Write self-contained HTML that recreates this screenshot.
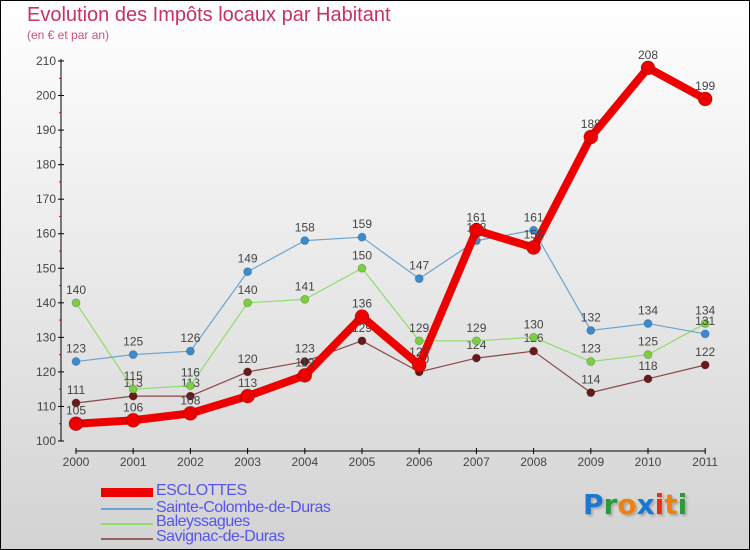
<!DOCTYPE html>
<html><head><meta charset="utf-8"><style>
body{margin:0}
#wrap{position:relative;width:748px;height:548px;border:1px solid #000;background:linear-gradient(#fff,#d3d3d3);font-family:"Liberation Sans",sans-serif;overflow:hidden}
.t{position:absolute;color:#c8325f}
.leg{position:absolute;left:155px;font-size:16px;color:#5555ee;letter-spacing:-0.5px}
.sw{position:absolute;left:100px;width:52px}
</style></head><body>
<div id="wrap">
<div class="t" style="left:26px;top:3px;font-size:20px">Evolution des Impôts locaux par Habitant</div>
<div class="t" style="left:26px;top:27px;font-size:12px;opacity:.85">(en € et par an)</div>
<svg id="chart" width="748" height="548" style="position:absolute;left:0;top:0"></svg>
<div class="sw" style="top:487px;height:9px;background:#e00"></div>
<div class="leg" style="top:481px">ESCLOTTES</div>
<div class="sw" style="top:507px;height:2px;background:#6aa4d0"></div>
<div class="leg" style="top:498px">Sainte-Colombe-de-Duras</div>
<div class="sw" style="top:522px;height:2px;background:#8fdc6a"></div>
<div class="leg" style="top:512px">Baleyssagues</div>
<div class="sw" style="top:537px;height:2px;background:#946060"></div>
<div class="leg" style="top:527px">Savignac-de-Duras</div>
<div style="position:absolute;left:582px;top:487px;font-size:28px;font-family:'DejaVu Sans',sans-serif;font-weight:bold;text-shadow:2px 2px 2px #aaa"><span style="color:#1a78d0">P</span><span style="color:#2a9a3a">r</span><span style="color:#f08010">o</span><span style="color:#1a78d0">x</span><span style="color:#e83010">i</span><span style="color:#f08010">t</span><span style="color:#2a9a3a">i</span></div>
</div>
<script>
const years=["2000","2001","2002","2003","2004","2005","2006","2007","2008","2009","2010","2011"];
const yTicks=[100,110,120,130,140,150,160,170,180,190,200,210];
const esclottes=[105,106,108,113,119,136,122,161,156,188,208,199];
const sainteColombe=[123,125,126,149,158,159,147,158,161,132,134,131];
const baleyssagues=[140,115,116,140,141,150,129,129,130,123,125,134];
const savignac=[111,113,113,120,123,129,120,124,126,114,118,122];
const svg=document.getElementById('chart');
const NS='http://www.w3.org/2000/svg';
const xS=i=>75+i*57.2;
const yS=v=>440-(v-100)*3.4545;
function mk(tag,attrs){const e=document.createElementNS(NS,tag);for(const k in attrs)e.setAttribute(k,attrs[k]);svg.appendChild(e);return e;}
let ax=mk('line',{x1:60,y1:58,x2:60,y2:440,stroke:'#000','stroke-width':1});


let xa=mk('line',{x1:75,y1:450,x2:xS(11),y2:450,stroke:'#000','stroke-width':1});


yTicks.forEach((v,i)=>{
 mk('line',{x1:57,y1:yS(v),x2:63,y2:yS(v),stroke:'#000'});
 if(i<yTicks.length-1)mk('line',{x1:58,y1:yS(v+5),x2:60,y2:yS(v+5),stroke:'#e00'});
 const t=mk('text',{x:55,y:yS(v)+4,'text-anchor':'end','font-size':12,fill:'#444','font-family':'Liberation Sans'});
 t.textContent=v;
 
 
});
years.forEach((y,i)=>{
 mk('line',{x1:xS(i),y1:447,x2:xS(i),y2:453,stroke:'#000'});
 const t=mk('text',{x:xS(i),y:465,'text-anchor':'middle','font-size':12,fill:'#444','font-family':'Liberation Sans'});
 t.textContent=y;
 
 
});
function series(data,color,dot,w,r,name){
 const p=mk('polyline',{points:data.map((v,i)=>xS(i)+','+yS(v)).join(' '),fill:'none',stroke:color,'stroke-width':w,'stroke-linejoin':'round'});
 
 
 data.forEach((v,i)=>{
  const c=mk('circle',{cx:xS(i),cy:yS(v),r:r,fill:dot,stroke:'rgba(0,0,0,0.2)'});
  
  
  const t=mk('text',{x:xS(i),y:yS(v)-9,'text-anchor':'middle','font-size':12,fill:'#444','font-family':'Liberation Sans'});
  t.textContent=v;
  
  
 });
}
series(savignac,'#8a4848','#6a1818',1.2,4,'savignac');
series(baleyssagues,'#8fdc6a','#7ad040',1.2,4,'baleyssagues');
series(sainteColombe,'#6aa4d0','#3a8cd0',1.2,4,'sainte-colombe');
series(esclottes,'#ee0000','#ee0000',8,7,'esclottes');
</script>
</body></html>
